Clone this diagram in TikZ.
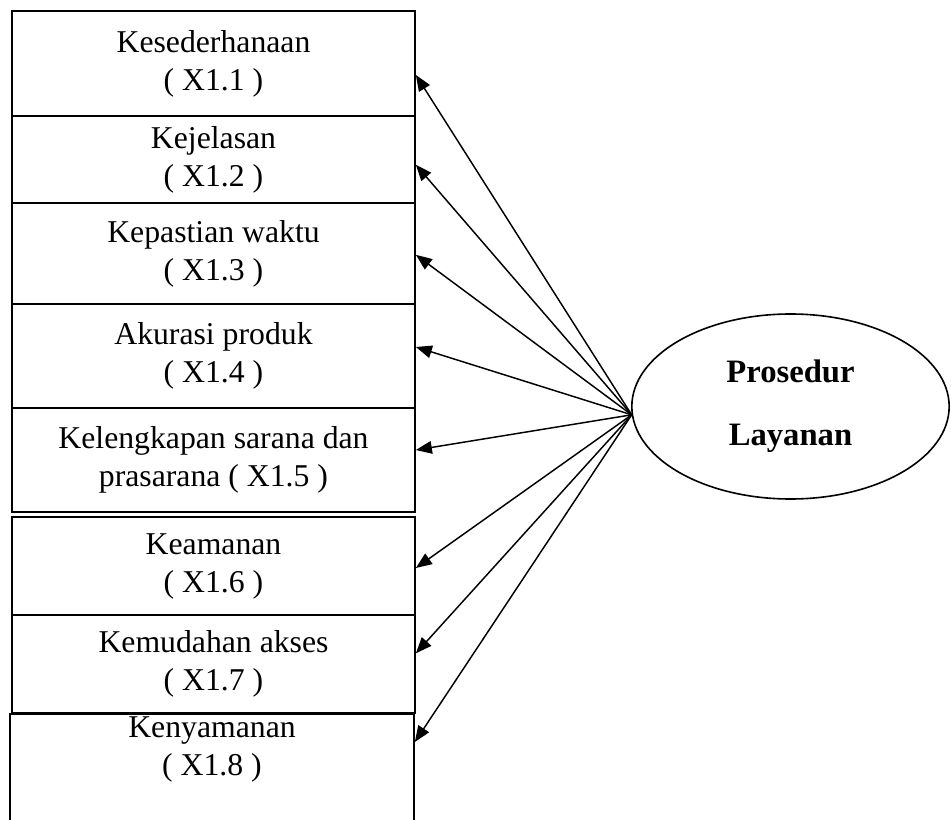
\documentclass[tikz,border=0pt]{standalone}
\usepackage{fontspec}
\setmainfont{Liberation Serif}
\usetikzlibrary{shapes.geometric,arrows.meta}

\begin{document}
\begin{tikzpicture}[x=0.75pt, y=-0.75pt,
    kotak/.style={draw, line width=1.3pt, minimum width=302.25pt, inner sep=0pt, align=center, font=\fontsize{23.8}{28.5}\selectfont},
    panah/.style={-{Triangle[length=12pt,width=9.5pt]}, line width=1.1pt}]
    \useasboundingbox (0,0) rectangle (951,820);
    % indikator
    \node[kotak, minimum height=78.75pt] (k1) at (213.5,63.5) {Kesederhanaan\\( X1.1 )};
    \node[kotak, minimum height=65.25pt] (k2) at (213.5,159.5) {Kejelasan\\( X1.2 )};
    \node[kotak, minimum height=75.75pt] (k3) at (213.5,253.5) {Kepastian waktu\\( X1.3 )};
    \node[kotak, minimum height=78pt] (k4) at (213.5,356) {Akurasi produk\\( X1.4 )};
    \node[kotak, minimum height=78pt] (k5) at (213.5,460) {Kelengkapan sarana dan\\prasarana ( X1.5 )};
    \node[kotak, minimum height=73.5pt] (k6) at (213.5,566) {Keamanan\\( X1.6 )};
    \node[kotak, minimum height=73.5pt] (k7) at (213.5,664) {Kemudahan akses\\( X1.7 )};
    \node[kotak, minimum height=97.5pt, minimum width=303pt, anchor=north] (k8) at (212,713) {};
    \node[align=center, inner sep=0pt, font=\fontsize{23.8}{28.5}\selectfont] (t8) at (212,749) {Kenyamanan\\( X1.8 )};
    % variabel laten
    \node[ellipse, draw, line width=1.2pt, minimum width=238pt, minimum height=138.75pt, inner sep=0pt, align=center, font=\bfseries\fontsize{24.5}{47}\selectfont] (pl) at (790.5,406.5) {Prosedur\\Layanan};
    \foreach \k/\dy in {k1/-8.6,k2/-4,k3/-1,k4/6.75,k5/7.5,k6/-1.5,k7/8}
        \draw[panah] (pl.183) -- ([yshift=\dy pt]\k.east);
    \draw[panah] (pl.183) -- ([yshift=-21.75pt]k8.north east);
\end{tikzpicture}
\end{document}
